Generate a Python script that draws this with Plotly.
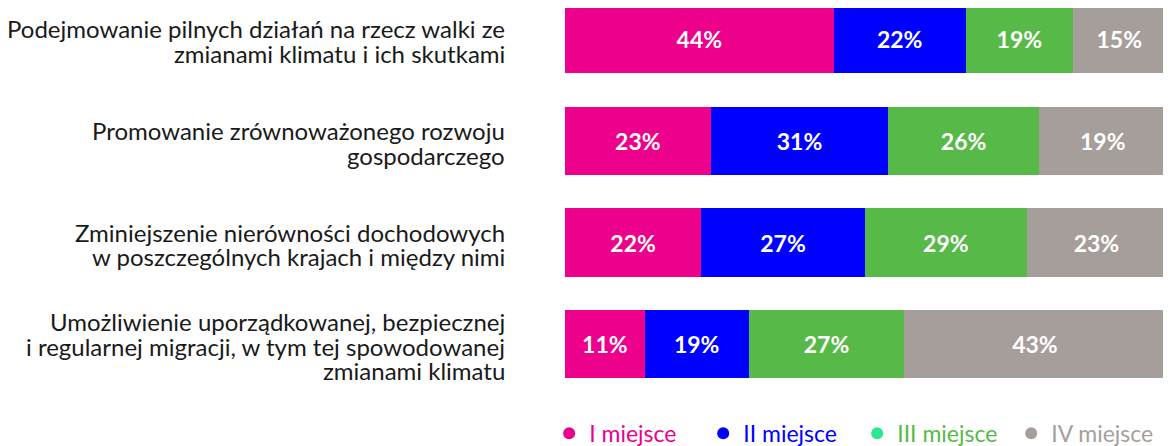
import plotly.graph_objects as go

categories = [
    "Podejmowanie pilnych działań na rzecz walki ze<br>zmianami klimatu i ich skutkami",
    "Promowanie zrównoważonego rozwoju<br>gospodarczego",
    "Zminiejszenie nierówności dochodowych<br>w poszczególnych krajach i między nimi",
    "Umożliwienie uporządkowanej, bezpiecznej<br>i regularnej migracji, w tym tej spowodowanej<br>zmianami klimatu",
]
series_names = ["I miejsce", "II miejsce", "III miejsce", "IV miejsce"]

# bar lengths as drawn (share of the row) and the printed labels, per series
shares = [
    [44.8, 24.3, 22.7, 13.3],
    [22.0, 29.6, 27.3, 17.3],
    [17.9, 25.1, 27.0, 26.0],
    [15.4, 21.3, 23.2, 43.5],
]
labels = [
    [44, 23, 22, 11],
    [22, 31, 27, 19],
    [19, 26, 29, 27],
    [15, 19, 23, 43],
]

bar_colors = ["#ec008c", "#0000ff", "#57b947", "#a69e9b"]
legend_marker_colors = ["#ec008c", "#0000ff", "#2ee88f", "#a69e9b"]

y_pos = list(range(len(categories)))

fig = go.Figure()
for i, name in enumerate(series_names):
    fig.add_trace(go.Bar(
        y=y_pos, x=shares[i], orientation='h', name=name,
        marker=dict(color=bar_colors[i], line=dict(width=0)),
        text=[f"{v}%" for v in labels[i]], textposition='inside',
        insidetextanchor='middle',
        textfont=dict(family='Lato', size=23, color='white', weight='bold'),
        showlegend=False, hoverinfo='skip',
    ))

for i, name in enumerate(series_names):
    fig.add_trace(go.Scatter(
        x=[None], y=[None], mode='markers',
        marker=dict(symbol='circle', size=12, color=legend_marker_colors[i]),
        name=f"<span style='color:{bar_colors[i]}'>{name}</span>",
    ))

# category labels, one annotation per line so the line spacing can be tight
line_h = 24.5
for yi, cat in zip(y_pos, categories):
    lines = cat.split("<br>")
    n = len(lines)
    for j, ln in enumerate(lines):
        fig.add_annotation(
            x=0, xref='paper', y=yi, yref='y',
            xanchor='right', yanchor='middle', xshift=-58,
            yshift=((n - 1) / 2 - j) * line_h - 2,
            text=ln, showarrow=False,
            font=dict(family='Lato', size=24, color='#1a1a1a'),
        )

# page body has an 8px margin, so the figure is a bit smaller than the window
fig.update_layout(
    barmode='stack', bargap=0.33,
    width=1163, height=438,
    margin=dict(l=557, r=5, t=0, b=0, autoexpand=False),
    paper_bgcolor='white', plot_bgcolor='white',
    uniformtext=dict(mode='show', minsize=10),
    xaxis=dict(range=[0, 100.2], visible=False, fixedrange=True),
    yaxis=dict(range=[4.0, -0.305], visible=False, fixedrange=True),
    legend=dict(
        orientation='h', traceorder='normal',
        x=-0.0263, xanchor='left', y=-0.02, yanchor='bottom',
        font=dict(family='Lato', size=23), itemclick=False,
        entrywidth=109, entrywidthmode='pixels',
        bgcolor='rgba(0,0,0,0)',
    ),
)

fig.write_html("out.html")
